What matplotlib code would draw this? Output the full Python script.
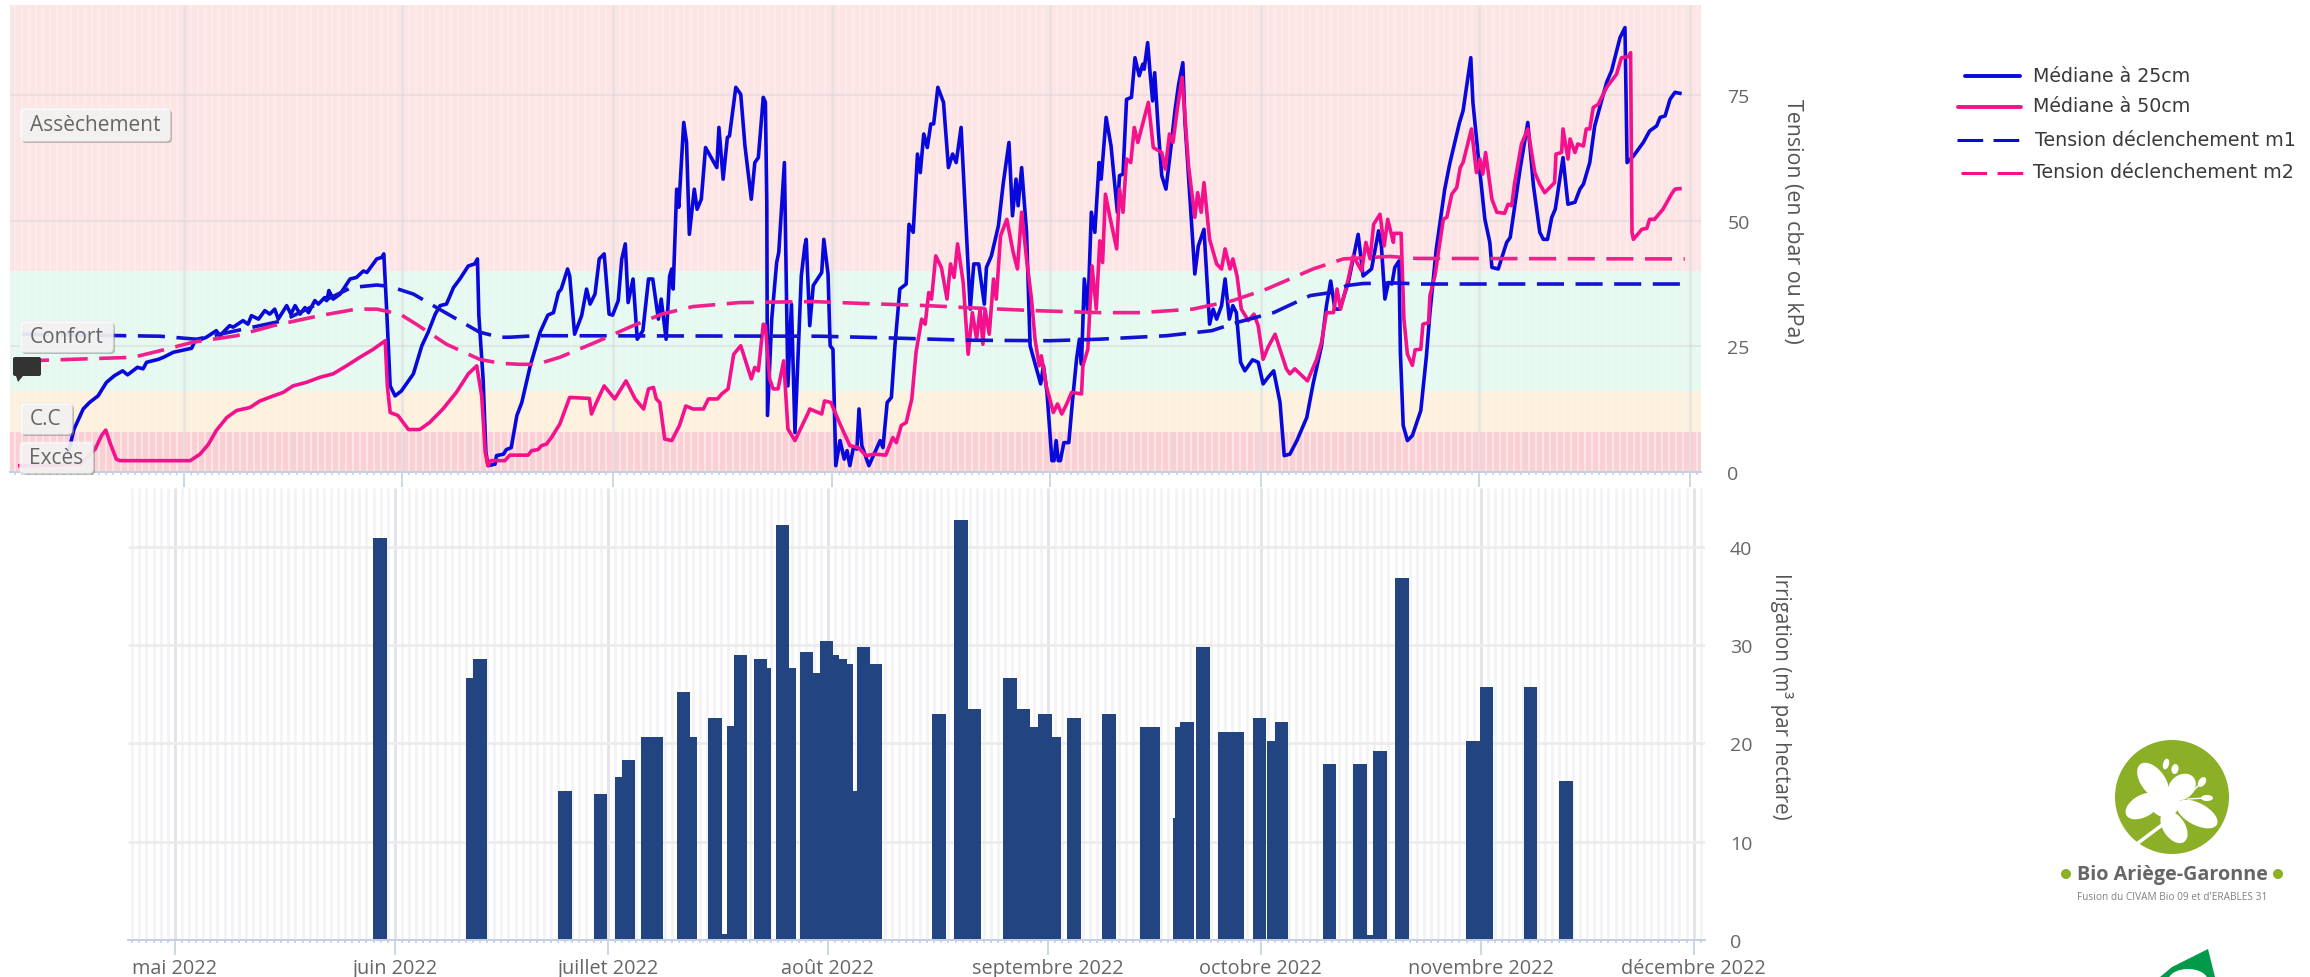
"""Suivi tensiometrique et irrigation, saison 2022 (Bio Ariege-Garonne)."""
import numpy as np
import matplotlib
matplotlib.use("Agg")
import matplotlib.pyplot as plt
from matplotlib.lines import Line2D
from matplotlib.patches import Circle, Ellipse, FancyBboxPatch, Polygon

plt.rcParams["font.family"] = ["Open Sans", "DejaVu Sans"]

W, H = 2310, 978
BLUE = "#0808dc"
PINK = "#f5108c"
GREY = "#666666"
AXIS = "#c4cfe6"

# x values are days since 1 May 2022
mois_jours = [0, 31, 61, 92, 123, 153, 184, 214]
mois_noms = ["mai 2022", "juin 2022", "juillet 2022", "août 2022", "septembre 2022",
             "octobre 2022", "novembre 2022", "décembre 2022"]

zones = [("Excès", 0, 8, "#fbd0d4"), ("C.C", 8, 16, "#fdf0dc"),
         ("Confort", 16, 40, "#e5f9f0"), ("Assèchement", 40, 93, "#fde5e6")]

med_25 = [(-16.4, 3.9), (-15.6, 8.5), (-14.3, 12.5), (-13.4, 13.8), (-12.2, 15.1), (-11.0, 17.8),
          (-9.9, 19.1), (-8.7, 20.1), (-8.0, 19.3), (-6.6, 20.8), (-5.8, 20.5), (-5.3, 21.8),
          (-3.6, 22.4), (-2.9, 22.8), (-1.5, 23.8), (1.1, 24.6), (1.6, 26.1), (2.5, 26.4),
          (3.2, 26.8), (4.6, 28.1), (5.1, 27.1), (6.5, 29.1), (7.0, 28.8), (8.4, 30.1),
          (9.1, 29.4), (9.6, 31.1), (10.6, 30.4), (11.5, 32.1), (12.2, 31.4), (12.9, 32.4),
          (13.4, 30.4), (14.6, 33.1), (15.2, 31.4), (15.8, 33.1), (16.5, 31.4), (17.2, 32.7),
          (17.7, 31.7), (18.6, 34.1), (19.1, 33.4), (20.0, 34.7), (20.3, 34.1), (20.6, 36.1),
          (21.2, 34.4), (22.2, 35.4), (23.6, 38.4), (24.5, 38.7), (25.5, 40.0), (26.0, 39.7),
          (27.4, 42.4), (28.1, 42.7), (28.4, 43.4), (28.8, 32.4), (29.3, 17.1), (30.0, 15.1),
          (30.9, 16.1), (32.6, 19.5), (33.8, 25.1), (34.7, 27.8), (35.7, 31.4), (36.4, 33.1),
          (37.3, 33.4), (38.3, 36.7), (39.2, 38.4), (40.4, 41.0), (41.3, 41.4), (41.7, 42.4),
          (41.9, 31.1), (42.5, 18.5), (42.9, 3.9), (43.2, 1.2), (44.2, 1.5), (44.4, 3.2),
          (45.4, 3.5), (45.8, 4.4), (46.5, 4.8), (47.3, 11.2), (48.0, 13.8), (49.2, 21.1),
          (50.6, 27.8), (51.7, 31.2), (52.5, 31.7), (53.2, 35.7), (53.6, 36.4), (54.5, 40.4),
          (54.8, 39.0), (55.5, 27.4), (56.5, 31.1), (57.2, 36.4), (57.7, 33.4), (58.4, 35.4),
          (59.0, 42.4), (59.7, 43.4), (60.4, 31.4), (60.9, 31.2), (61.7, 34.1), (62.2, 42.4),
          (62.7, 45.4), (63.1, 33.7), (63.8, 38.4), (64.4, 26.4), (65.2, 28.1), (66.0, 38.4),
          (66.6, 38.4), (67.4, 30.4), (67.8, 34.4), (68.5, 26.4), (69.0, 39.0), (69.3, 40.4),
          (69.5, 36.4), (70.0, 56.3), (70.3, 52.7), (71.0, 69.6), (71.4, 65.6), (71.8, 47.3),
          (72.5, 56.3), (72.9, 52.3), (73.5, 54.3), (74.1, 64.6), (75.7, 60.6), (76.0, 68.6),
          (76.6, 58.3), (77.2, 66.6), (77.5, 66.9), (78.4, 76.6), (79.1, 75.2), (79.7, 64.9),
          (80.6, 54.3), (81.1, 61.6), (81.6, 62.6), (82.3, 74.6), (82.6, 73.6), (82.8, 53.7),
          (82.9, 11.2), (83.5, 30.4), (84.2, 41.7), (84.5, 43.7), (85.3, 61.6), (85.8, 17.1),
          (86.3, 33.4), (86.8, 7.8), (87.7, 39.0), (88.2, 45.0), (88.4, 46.3), (88.9, 29.1),
          (89.4, 37.1), (90.6, 39.7), (90.9, 46.3), (91.5, 39.4), (91.8, 25.1), (92.2, 24.4),
          (92.6, 1.2), (93.2, 6.2), (93.8, 2.5), (94.2, 4.2), (94.6, 1.2), (95.1, 4.8),
          (95.6, 4.5), (95.9, 12.5), (96.3, 5.2), (97.3, 1.2), (98.9, 6.2), (99.3, 4.8),
          (99.9, 13.8), (100.5, 14.8), (101.0, 25.1), (101.7, 36.4), (102.6, 37.4), (103.0, 49.3),
          (103.6, 47.7), (104.2, 63.3), (104.6, 59.6), (105.1, 67.3), (105.6, 64.6), (106.1, 69.3),
          (106.5, 69.3), (107.1, 76.6), (107.9, 73.6), (108.6, 60.6), (109.2, 63.3), (109.7, 61.6),
          (110.4, 68.6), (110.7, 60.3), (111.7, 32.4), (112.2, 41.4), (112.9, 41.4), (113.7, 33.4),
          (114.0, 40.7), (114.7, 43.0), (115.7, 49.0), (116.4, 57.6), (117.2, 65.6), (117.7, 51.0),
          (118.2, 58.3), (118.5, 53.0), (119.0, 60.6), (119.7, 47.7), (120.2, 25.1), (121.7, 17.5),
          (122.1, 21.1), (122.6, 15.8), (123.3, 2.2), (123.6, 2.2), (123.9, 6.2), (124.2, 2.2),
          (124.5, 2.2), (125.0, 5.8), (125.7, 5.8), (126.2, 13.8), (126.8, 22.4), (127.2, 26.4),
          (127.5, 21.4), (127.9, 38.4), (128.4, 31.7), (128.9, 51.7), (129.4, 47.7), (130.0, 61.6),
          (130.3, 58.3), (131.0, 70.6), (131.7, 64.9), (132.6, 51.7), (132.9, 59.0), (133.4, 59.3),
          (133.9, 74.2), (134.6, 74.6), (135.1, 82.5), (135.7, 78.9), (136.2, 81.2), (136.4, 80.2),
          (136.9, 85.5), (137.2, 80.2), (137.6, 73.9), (137.9, 79.5), (138.4, 68.3), (138.9, 59.0),
          (139.5, 56.3), (140.2, 64.6), (140.8, 72.2), (141.3, 77.2), (141.9, 81.5), (142.2, 69.6),
          (142.7, 59.0), (143.6, 39.4), (144.1, 45.0), (144.9, 48.3), (145.7, 29.4), (146.2, 32.4),
          (146.7, 30.4), (147.4, 33.1), (147.9, 38.4), (148.5, 30.4), (149.0, 33.1), (149.5, 31.7),
          (150.1, 21.8), (150.7, 20.1), (151.8, 22.3), (152.6, 21.8), (153.3, 17.5), (154.0, 18.8),
          (154.8, 20.1), (155.7, 13.8), (156.3, 3.2), (157.1, 3.5), (158.1, 6.2), (159.5, 10.8),
          (160.4, 17.5), (161.6, 25.1), (162.3, 33.1), (162.9, 38.0), (163.5, 32.4), (164.2, 32.4),
          (165.4, 37.7), (166.8, 47.3), (167.5, 39.0), (168.7, 40.4), (169.7, 48.0), (170.1, 45.0),
          (170.6, 34.4), (171.1, 37.7), (171.6, 37.4), (172.0, 40.7), (172.6, 42.0), (172.8, 23.8),
          (173.2, 9.2), (173.8, 6.2), (174.5, 7.2), (175.7, 12.2), (176.5, 23.1), (177.0, 31.7),
          (177.9, 44.4), (179.1, 56.3), (179.8, 61.3), (181.2, 69.6), (181.7, 71.9), (182.8, 82.5),
          (183.1, 73.6), (183.9, 62.3), (184.8, 50.3), (185.5, 45.7), (185.8, 40.7), (186.7, 40.4),
          (187.9, 45.7), (188.4, 46.7), (189.8, 60.3), (190.9, 69.6), (191.7, 57.0), (192.6, 47.7),
          (193.1, 46.3), (193.7, 46.3), (194.3, 50.7), (194.8, 52.3), (195.9, 62.6), (196.6, 53.3),
          (197.6, 53.7), (198.3, 56.3), (198.8, 57.3), (199.7, 61.6), (200.4, 68.9), (202.1, 77.6),
          (202.8, 79.9), (204.0, 86.5), (204.7, 88.5), (205.0, 61.6), (205.9, 62.9), (207.3, 65.6),
          (208.2, 67.9), (209.2, 68.9), (209.7, 70.6), (210.4, 70.9), (211.1, 74.2), (211.8, 75.6),
          (212.5, 75.4)]

med_50 = [(-23.3, 1.2), (-14.8, 1.4), (-12.6, 4.5), (-11.7, 7.2), (-11.1, 8.3), (-10.5, 5.8),
          (-9.6, 2.5), (-9.1, 2.2), (0.9, 2.2), (2.3, 3.5), (3.5, 5.5), (4.6, 8.2), (6.1, 10.8),
          (7.5, 12.2), (9.4, 12.8), (10.8, 14.1), (12.7, 15.1), (14.1, 15.8), (15.5, 17.1),
          (17.4, 17.8), (19.3, 18.8), (21.2, 19.5), (23.1, 21.1), (25.0, 22.8), (26.9, 24.4),
          (28.6, 26.1), (28.9, 17.1), (29.3, 11.8), (30.4, 11.2), (31.9, 8.4), (33.5, 8.4),
          (34.9, 9.8), (36.8, 12.5), (38.7, 15.8), (40.4, 19.5), (41.6, 21.1), (42.3, 15.1),
          (42.8, 3.9), (43.2, 1.2), (43.6, 2.2), (45.6, 2.2), (46.3, 3.3), (48.9, 3.3), (49.4, 4.2),
          (50.3, 4.4), (50.8, 5.2), (51.5, 5.5), (52.2, 6.8), (53.4, 9.5), (54.8, 14.8),
          (57.6, 14.6), (57.9, 11.5), (58.6, 13.8), (59.7, 17.1), (61.2, 14.5), (62.8, 18.1),
          (64.1, 14.5), (65.3, 12.5), (66.0, 16.5), (66.7, 16.8), (67.1, 14.5), (67.6, 13.8),
          (68.3, 6.5), (69.3, 6.2), (70.4, 9.2), (71.3, 13.1), (72.3, 12.5), (73.8, 12.5),
          (74.5, 14.5), (75.8, 14.5), (76.4, 15.5), (77.3, 16.5), (78.1, 23.4), (79.1, 25.1),
          (80.6, 18.5), (81.1, 20.8), (81.6, 20.1), (82.3, 29.4), (82.6, 29.1), (83.2, 18.5),
          (83.7, 16.5), (84.4, 16.5), (85.2, 22.1), (85.8, 8.5), (86.8, 6.2), (88.7, 11.8),
          (88.9, 12.5), (90.6, 11.5), (91.0, 14.1), (91.9, 13.8), (93.2, 9.5), (94.6, 5.2),
          (95.8, 4.8), (96.9, 3.2), (98.1, 3.5), (99.7, 3.3), (100.7, 6.8), (101.2, 5.8),
          (101.9, 9.2), (102.6, 9.8), (103.4, 14.5), (104.0, 23.8), (104.8, 30.4), (105.3, 29.4),
          (105.8, 35.7), (106.2, 34.4), (106.8, 43.0), (107.6, 40.7), (108.4, 34.4), (108.9, 41.4),
          (109.4, 38.7), (109.9, 45.4), (110.7, 37.7), (111.4, 23.4), (112.0, 31.7), (112.6, 26.4),
          (113.1, 32.4), (113.5, 25.4), (113.8, 32.4), (114.4, 27.4), (115.0, 38.4), (115.4, 34.4),
          (116.0, 47.0), (116.9, 50.3), (117.8, 43.7), (118.4, 40.4), (119.0, 51.7), (119.7, 42.4),
          (120.4, 34.4), (120.9, 26.4), (121.5, 21.1), (121.8, 23.1), (122.5, 17.1), (123.5, 11.8),
          (124.1, 13.5), (124.7, 11.5), (125.4, 13.5), (126.1, 15.8), (127.5, 15.5), (127.7, 21.1),
          (128.4, 24.4), (129.0, 41.0), (129.6, 32.4), (130.1, 46.0), (130.5, 41.7), (130.9, 55.3),
          (131.5, 51.0), (132.5, 44.4), (132.9, 56.3), (133.4, 51.7), (133.9, 62.3), (134.5, 61.6),
          (135.0, 68.6), (135.5, 65.6), (136.2, 69.3), (137.0, 73.6), (137.7, 64.6), (138.9, 63.6),
          (139.4, 60.3), (140.0, 67.3), (140.5, 65.6), (141.1, 72.2), (141.8, 78.6), (142.7, 61.0),
          (143.6, 50.7), (144.0, 55.6), (144.5, 51.7), (144.9, 57.6), (145.7, 46.3), (146.7, 41.4),
          (147.4, 40.4), (147.9, 44.4), (148.6, 40.4), (149.0, 42.4), (149.6, 39.0), (150.2, 32.4),
          (151.2, 30.1), (152.0, 31.4), (152.6, 29.1), (153.3, 22.4), (154.0, 24.8), (155.0, 27.4),
          (156.6, 20.5), (157.1, 19.5), (157.8, 20.5), (159.6, 18.1), (160.9, 22.4), (161.6, 25.8),
          (162.3, 31.7), (163.3, 31.7), (163.8, 36.4), (164.3, 32.4), (165.4, 38.4), (166.1, 43.0),
          (167.3, 40.0), (167.9, 45.7), (168.5, 42.4), (169.0, 49.3), (169.9, 51.3), (170.5, 45.0),
          (171.0, 50.3), (171.8, 45.7), (171.9, 47.5), (172.9, 47.5), (173.3, 30.4), (173.8, 23.4),
          (174.5, 21.2), (174.9, 24.3), (175.7, 24.4), (176.0, 29.4), (176.8, 29.7), (177.0, 35.1),
          (177.7, 39.0), (178.9, 50.3), (179.4, 50.7), (180.1, 55.3), (180.8, 56.6), (181.3, 60.6),
          (181.7, 61.6), (182.9, 68.3), (183.6, 59.6), (184.1, 62.3), (184.5, 59.3), (184.9, 63.6),
          (185.8, 54.3), (186.5, 51.7), (187.6, 51.5), (188.1, 53.3), (188.6, 53.0), (189.0, 57.3),
          (190.0, 65.3), (190.9, 68.3), (191.9, 59.6), (192.6, 57.3), (193.3, 55.6), (194.7, 57.6),
          (194.9, 63.3), (195.7, 63.6), (195.9, 68.3), (196.6, 62.3), (196.9, 66.3), (197.6, 63.6),
          (198.0, 65.3), (198.8, 64.9), (199.2, 68.3), (199.7, 68.3), (200.2, 72.6), (200.9, 73.2),
          (202.1, 76.6), (202.8, 77.9), (203.5, 79.2), (204.2, 82.5), (205.2, 82.7), (205.5, 83.5),
          (205.7, 47.7), (205.9, 46.3), (207.1, 48.3), (207.8, 48.5), (208.2, 50.3), (208.9, 50.3),
          (210.1, 52.3), (211.3, 55.3), (211.8, 56.3), (212.5, 56.4)]

seuil_m1 = [(-23.0, 27.4), (-3.4, 27.0), (1.8, 26.4), (14.1, 30.1), (23.8, 36.7), (27.4, 37.2),
            (29.3, 36.9), (32.6, 35.4), (35.9, 32.7), (42.0, 27.8), (44.9, 26.8), (46.3, 26.8),
            (50.0, 27.1), (90.3, 27.0), (101.7, 26.6), (111.2, 26.2), (123.0, 26.1), (130.0, 26.4),
            (139.6, 27.1), (146.0, 28.1), (149.5, 29.7), (154.8, 31.7), (160.0, 35.1), (162.9, 35.7),
            (165.2, 37.1), (167.5, 37.5), (172.2, 37.6), (175.6, 37.4), (213.2, 37.4)]

seuil_m2 = [(-23.0, 22.2), (-20.0, 22.2), (-7.2, 22.8), (-3.4, 24.1), (1.3, 25.8), (7.5, 27.1),
            (12.7, 29.1), (19.3, 31.1), (24.5, 32.4), (27.4, 32.4), (30.7, 31.4), (33.0, 29.4),
            (37.3, 25.4), (42.0, 22.4), (44.9, 21.6), (47.7, 21.4), (50.1, 21.4), (53.4, 22.8),
            (58.5, 25.8), (63.8, 29.1), (67.9, 31.4), (72.3, 32.9), (78.9, 33.7), (89.4, 33.9),
            (96.9, 33.5), (105.5, 33.1), (111.2, 32.7), (120.7, 32.1), (130.1, 31.7), (136.0, 31.7),
            (143.3, 32.4), (149.0, 34.1), (153.8, 36.4), (160.4, 40.4), (164.7, 42.4), (171.3, 42.9),
            (175.0, 42.5), (213.2, 42.4)]

irrig_jour = [28.9, 42.0, 43.0, 55.0, 60.0, 62.9, 63.9, 66.7, 67.8, 71.65, 72.6, 76.1, 77.9, 78.8,
              79.7, 82.5, 83.0, 85.6, 86.6, 89.0, 89.9, 91.8, 92.7, 93.7, 94.6, 95.1, 97.0, 98.7,
              107.7, 110.8, 112.7, 117.7, 119.6, 121.1, 122.6, 123.9, 126.7, 131.6, 137.0, 137.8,
              141.6, 141.9, 142.6, 144.9, 148.0, 149.7, 152.8, 154.9, 155.9, 162.7, 167.0, 168.5,
              169.8, 172.9, 182.9, 184.8, 191.0, 196.0]
irrig_m3 = [40.8, 26.5, 28.4, 15.0, 14.7, 16.4, 18.2, 20.5, 20.5, 25.1, 20.5, 22.4, 0.45, 21.6,
            28.9, 28.4, 27.5, 42.1, 27.5, 29.2, 27.0, 30.3, 28.9, 28.4, 27.9, 15.0, 29.7, 27.9,
            22.9, 42.6, 23.4, 26.5, 23.4, 21.5, 22.9, 20.5, 22.4, 22.9, 21.5, 21.5,
            12.3, 21.5, 22.0, 29.7, 21.0, 21.0, 22.4, 20.1, 22.0, 17.8, 17.8, 0.4,
            19.1, 36.7, 20.1, 25.6, 25.6, 16.0]

legende = [("Médiane à 25cm", BLUE, "-", 1965, 2020, 77, 2033),
           ("Médiane à 50cm", PINK, "-", 1958, 2021, 108, 2033),
           ("Tension déclenchement m1", BLUE, "--", 1957, 2021, 141, 2035),
           ("Tension déclenchement m2", PINK, "--", 1961, 2024, 174, 2033)]

etiquettes = [("Assèchement", 20, 109, 150, 33), ("Confort", 20, 322, 93, 31),
              ("C.C", 20, 404, 52, 31), ("Excès", 20, 443, 73, 31)]


def box(l, t, r, b):
    return [l / W, 1 - b / H, (r - l) / W, (b - t) / H]


def style_axe(ax, x0, x1):
    ax.set_xticks(mois_jours)
    ax.set_xticks(np.arange(np.ceil(x0), x1), minor=True)
    ax.set_xlim(x0, x1)  # after set_xticks, which widens the view
    ax.tick_params(axis="x", which="major", length=11, width=1.2, color=AXIS)
    ax.tick_params(axis="x", which="minor", length=2.5, width=1.2, color=AXIS)
    for s in ["top", "left", "right"]:
        ax.spines[s].set_visible(False)
    ax.spines["bottom"].set_color(AXIS)
    ax.spines["bottom"].set_linewidth(1.4)
    ax.yaxis.tick_right()
    ax.set_axisbelow(True)


fig = plt.figure(figsize=(W / 100, H / 100), dpi=100, facecolor="white")

# ---- tension panel ----
ax1 = fig.add_axes(box(10, 6, 1701, 472.7))
style_axe(ax1, -24.7, 215.5)
ax1.set_ylim(0, 93)
for nom, y0, y1, c in zones:
    ax1.axhspan(y0, y1, color=c, lw=0, zorder=0)
ax1.vlines(np.arange(-24, 216), 0, 93, color="white", alpha=0.22, lw=1.5, zorder=0.5)
ax1.vlines(np.arange(-24, 216), 0, 8, color="white", alpha=0.3, lw=1.5, zorder=0.6)
ax1.vlines(mois_jours, 0, 93, color="#d8dadf", alpha=0.55, lw=2, zorder=0.8)
ax1.hlines([25, 50, 75], -24.7, 215.5, color="#d8d8d8", alpha=0.5, lw=1.5, zorder=0.8)
ax1.set_yticks([0, 25, 50, 75])
ax1.set_xticklabels([])
ax1.tick_params(axis="y", length=0, pad=19, labelsize=14, labelcolor=GREY)

for data, c in [(med_25, BLUE), (med_50, PINK)]:
    d = np.array(data)
    ax1.plot(d[:, 0], d[:, 1], color=c, lw=2.6, solid_joinstyle="round", zorder=3)
for data, c in [(seuil_m1, "#1212d0"), (seuil_m2, "#f0208c")]:
    d = np.array(data)
    ax1.plot(d[:, 0], d[:, 1], color=c, lw=2.6, ls=(0, (7.5, 3.2)), zorder=3.5)

# ---- irrigation panel ----
ax2 = fig.add_axes(box(128, 489, 1705, 941))
style_axe(ax2, -6.6, 215.6)
ax2.set_ylim(0, 46)
ax2.vlines(np.arange(-6, 216), 0, 46, color="#f3f3f5", lw=1.8, zorder=0.5)
ax2.vlines(mois_jours, 0, 46, color="#e4e5e9", lw=2.2, zorder=0.8)
ax2.hlines([10, 20, 30, 40], -6.6, 215.6, color="#ececec", lw=2, zorder=0.8)
ax2.bar(irrig_jour, irrig_m3, width=1.9, bottom=0.15, color="#224582", lw=0, zorder=3)
ax2.set_yticks([0, 10, 20, 30, 40])
ax2.set_xticklabels(mois_noms)
ax2.tick_params(axis="y", length=0, pad=18, labelsize=14, labelcolor=GREY)
ax2.tick_params(axis="x", which="major", labelsize=14.3, labelcolor=GREY, pad=2)

# ---- overlay in pixel coords: labels, legend, logos ----
ov = fig.add_axes([0, 0, 1, 1], zorder=10)
ov.set_xlim(0, W)
ov.set_ylim(H, 0)
ov.axis("off")
ov.patch.set_alpha(0)

ov.text(1793, 221, "Tension (en cbar ou kPa)", rotation=270, ha="center", va="center",
        fontsize=15.4, color="#555555")
ov.text(1782, 696, "Irrigation (m³ par hectare)", rotation=270, ha="center", va="center",
        fontsize=14.8, color="#555555")

for txt, x, y, w, h in etiquettes:
    ov.add_patch(FancyBboxPatch((x + 2, y + 2), w, h, boxstyle="round,pad=0,rounding_size=4",
                                fc="#888888", ec="none", alpha=0.55))
    ov.add_patch(FancyBboxPatch((x, y), w, h, boxstyle="round,pad=0,rounding_size=4",
                                fc="#fdfbfb", ec="#eeeeee", lw=0.8, alpha=0.86))
    ov.text(x + w / 2, y + h / 2, txt, ha="center", va="center", fontsize=15, color=GREY)

ov.add_patch(FancyBboxPatch((13, 358), 28, 19, boxstyle="round,pad=0,rounding_size=2", fc="#333333", ec="none"))
ov.add_patch(Polygon([(16, 377), (23, 377), (18, 383)], fc="#333333", ec="none"))

for txt, c, ls, x0, x1, y, xt in legende:
    ov.add_line(Line2D([x0, x1], [y, y], color=c, lw=2.8 if ls == "-" else 2.2,
                       ls="-" if ls == "-" else (0, (8.4, 3.4)), solid_capstyle="round"))
    ov.text(xt, y - 1, txt, va="center", fontsize=13.7, color="#3a3a3a", family="DejaVu Sans")

# Bio Ariege-Garonne logo
VERT = "#8bb028"
ov.add_patch(Circle((2172, 798), 57, fc=VERT, ec="none"))
for cx, cy, a, b, ang in [(2153, 782, 42, 24, 53), (2143, 807, 38, 22, -29), (2197, 815, 45, 22, 28),
                          (2174, 828, 36, 22, 56), (2182, 788, 30, 24, -40), (2165, 803, 30, 30, 0)]:
    ov.add_patch(Ellipse((cx, cy), a, b, angle=ang, fc="white", ec="none"))
ov.add_line(Line2D([2138, 2162], [844, 826], color="white", lw=2.5))
for cx, cy, a, b, ang in [(2166, 765, 6, 11, 15), (2175, 770, 7, 10, 10), (2202, 783, 7, 11, 35), (2207, 799, 12, 6, 0)]:
    ov.add_patch(Ellipse((cx, cy), a, b, angle=ang, fc="white", ec="none"))
ov.add_line(Line2D([2190, 2200], [795, 785], color="white", lw=1))
ov.add_line(Line2D([2188, 2205], [800, 799], color="white", lw=1))
ov.text(2172, 875, "Bio Ariège-Garonne", ha="center", va="center", fontsize=14.2,
        fontweight="bold", color="#666666", family="Open Sans")
for cx in [2066, 2278]:
    ov.add_patch(Circle((cx, 875), 5, fc=VERT, ec="none"))
ov.text(2172, 898, "Fusion du CIVAM Bio 09 et d'ERABLES 31", ha="center", va="center",
        fontsize=7.3, color="#808080")

# second logo, cut off by the bottom edge
ov.add_patch(Polygon([(2160, 978), (2172, 968), (2208, 950), (2215, 978)], fc="#009a4a", ec="none"))
ov.add_patch(Ellipse((2188, 982), 40, 24, fc="white", ec="none"))

fig.savefig("out.png", dpi=100)
